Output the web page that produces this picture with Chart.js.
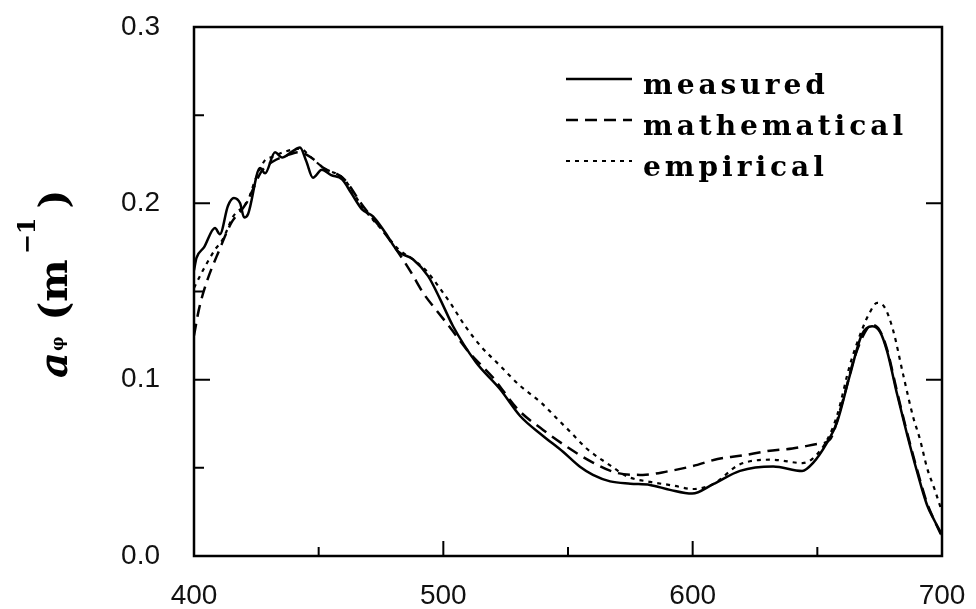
<!DOCTYPE html>
<html>
<head>
<meta charset="utf-8">
<script src="https://cdn.jsdelivr.net/npm/chart.js@4.4.0/dist/chart.umd.min.js"></script>
<style>
  html, body { margin: 0; padding: 0; background: #fff; }
  #grafico { display: block; }
</style>
</head>
<body>
<canvas id="grafico" width="976" height="609"></canvas>
<script>
// Absorção do fitoplâncton: medida x modelos
const measuredWl = [400, 401, 404, 408.4, 410.4, 413.6, 416, 418.5, 420.1, 421.7, 426.5, 428.5, 432.5, 435.3, 439, 442.5, 445, 447.7, 451.3, 455, 459.4, 463, 467.4, 471.8, 476.6, 481.8, 487.8, 493.9, 498.7, 503.9, 513, 522.7, 530.8, 540, 548, 554.8, 560, 566.9, 575, 582.9, 590.9, 599.8, 608.2, 619, 632.3, 643.9, 648.3, 653.9, 657.9, 663.1, 667.9, 672, 675.2, 678, 682, 686, 690, 694, 697, 700];
const measuredVal = [0.162, 0.169, 0.175, 0.186, 0.1825, 0.1985, 0.203, 0.200, 0.192, 0.194, 0.220, 0.217, 0.229, 0.226, 0.229, 0.2316, 0.224, 0.2145, 0.219, 0.216, 0.2136, 0.206, 0.1966, 0.1926, 0.1836, 0.1728, 0.1683, 0.1587, 0.1457, 0.1303, 0.110, 0.0947, 0.0794, 0.0681, 0.0591, 0.0506, 0.046, 0.0423, 0.041, 0.0403, 0.0375, 0.0354, 0.0407, 0.0483, 0.0508, 0.0482, 0.0528, 0.0643, 0.0758, 0.1028, 0.1257, 0.1303, 0.127, 0.116, 0.0917, 0.0689, 0.0478, 0.0289, 0.020, 0.012];

const mathWl = [400, 402, 405, 410, 415, 420, 423, 427, 432, 437, 442, 447, 452, 460, 468, 476, 482, 487, 492, 498, 503, 510, 520, 530, 540, 550, 560, 570, 580, 590, 600, 610, 620, 630, 640, 650, 655, 660, 665, 670, 672, 675, 678, 682, 686, 690, 694, 697, 700];
const mathVal = [0.125, 0.140, 0.155, 0.173, 0.189, 0.198, 0.206, 0.218, 0.224, 0.227, 0.229, 0.226, 0.220, 0.214, 0.198, 0.184, 0.172, 0.161, 0.149, 0.138, 0.129, 0.116, 0.101, 0.083, 0.0715, 0.0615, 0.053, 0.047, 0.046, 0.048, 0.051, 0.055, 0.057, 0.0595, 0.061, 0.0635, 0.066, 0.087, 0.113, 0.129, 0.131, 0.128, 0.117, 0.093, 0.070, 0.049, 0.030, 0.020, 0.011];

const empWl = [400, 403.6, 408.4, 411.6, 415.6, 421.7, 424.5, 428.5, 431.3, 436.5, 442.5, 447, 452, 460, 468, 476, 482, 488, 493, 498, 503, 508.7, 515, 522.7, 530.8, 538.8, 546.8, 551, 557.6, 566.9, 573.7, 583, 592, 600, 608, 619, 632, 644, 648, 654, 658, 663, 668.4, 671, 674, 677, 680.4, 684.4, 688.4, 691.2, 694, 697, 700];
const empVal = [0.152, 0.162, 0.1737, 0.1797, 0.1923, 0.2017, 0.2131, 0.2245, 0.2263, 0.2293, 0.231, 0.226, 0.220, 0.214, 0.197, 0.184, 0.174, 0.168, 0.162, 0.153, 0.143, 0.1305, 0.119, 0.108, 0.0965, 0.0875, 0.0762, 0.0703, 0.0608, 0.0514, 0.0451, 0.042, 0.040, 0.038, 0.0406, 0.052, 0.0546, 0.0527, 0.0551, 0.066, 0.080, 0.108, 0.130, 0.138, 0.1436, 0.141, 0.128, 0.103, 0.079, 0.066, 0.050, 0.038, 0.025];

const xTicks = [400, 500, 600, 700];
const xMinor = [450, 550, 650];
const yTicks = [0.0, 0.1, 0.2, 0.3];
const yMinor = [0.05, 0.15, 0.25];
const seriesNames = ['measured', 'mathematical', 'empirical'];

function pares(wl, val) {
    return wl.map((w, i) => ({ x: w, y: val[i] }));
}

// Moldura com marcas internas (eixos do gráfico)
const moldura = {
    id: 'moldura',
    afterDatasetsDraw(chart) {
        const { ctx, chartArea: a, scales: { x, y } } = chart;
        ctx.save();
        ctx.strokeStyle = '#000';
        ctx.lineWidth = 2.5;
        ctx.strokeRect(a.left, a.top, a.right - a.left, a.bottom - a.top);
        ctx.lineWidth = 2;
        ctx.beginPath();
        xTicks.forEach(v => {
            const px = x.getPixelForValue(v);
            ctx.moveTo(px, a.bottom); ctx.lineTo(px, a.bottom - 15);
        });
        xMinor.forEach(v => {
            const px = x.getPixelForValue(v);
            ctx.moveTo(px, a.bottom); ctx.lineTo(px, a.bottom - 9);
        });
        yTicks.forEach(v => {
            const py = y.getPixelForValue(v);
            ctx.moveTo(a.left, py); ctx.lineTo(a.left + 16, py);
            ctx.moveTo(a.right, py); ctx.lineTo(a.right - 16, py);
        });
        yMinor.forEach(v => {
            const py = y.getPixelForValue(v);
            ctx.moveTo(a.left, py); ctx.lineTo(a.left + 10, py);
        });
        ctx.stroke();
        ctx.restore();
    }
};

// Legenda dentro da área do gráfico
const legendaInterna = {
    id: 'legendaInterna',
    afterDraw(chart) {
        const { ctx, chartArea: a } = chart;
        ctx.save();
        ctx.font = 'bold 28px "DejaVu Serif"';
        ctx.letterSpacing = '4px';
        ctx.fillStyle = '#000';
        ctx.textBaseline = 'alphabetic';
        chart.data.datasets.forEach((ds, i) => {
            const yl = a.top + 52 + i * 41;
            ctx.strokeStyle = '#000';
            ctx.lineWidth = ds.borderWidth;
            ctx.setLineDash(ds.borderDash || []);
            ctx.beginPath();
            ctx.moveTo(a.left + 372, yl);
            ctx.lineTo(a.left + 438, yl);
            ctx.stroke();
            ctx.fillText(ds.label, a.left + 449, yl + 15);
        });
        ctx.restore();
    }
};

// Título do eixo y: a_φ (m^-1), girado
const tituloY = {
    id: 'tituloY',
    afterDraw(chart) {
        const { ctx } = chart;
        ctx.save();
        ctx.translate(67, 378);
        ctx.rotate(-Math.PI / 2);
        ctx.fillStyle = '#000';
        ctx.textBaseline = 'alphabetic';
        let cx = 0;
        ctx.font = 'italic bold 40px "DejaVu Serif"';
        ctx.fillText('a', cx, 0);
        cx += ctx.measureText('a').width + 1;
        ctx.font = 'bold 16px "DejaVu Serif"';
        ctx.fillText('φ', cx, -4);
        cx += ctx.measureText('φ').width + 16;
        ctx.font = 'bold 40px "DejaVu Serif"';
        ctx.fillText('(m', cx, 0);
        cx += ctx.measureText('(m').width + 5;
        ctx.font = 'bold 24px "DejaVu Serif"';
        ctx.fillText('−1', cx, -32);
        cx += ctx.measureText('−1').width + 9;
        ctx.font = 'bold 40px "DejaVu Serif"';
        ctx.fillText(')', cx, 0);
        ctx.restore();
    }
};

const ctx = document.getElementById('grafico').getContext('2d');
new Chart(ctx, {
    type: 'line',
    data: {
        datasets: [
            {
                label: seriesNames[0],
                data: pares(measuredWl, measuredVal),
                borderColor: '#000',
                borderWidth: 2.5,
                borderDash: []
            },
            {
                label: seriesNames[1],
                data: pares(mathWl, mathVal),
                borderColor: '#000',
                borderWidth: 2.5,
                borderDash: [12, 7]
            },
            {
                label: seriesNames[2],
                data: pares(empWl, empVal),
                borderColor: '#000',
                borderWidth: 2.2,
                borderDash: [4, 5]
            }
        ]
    },
    options: {
        responsive: false,
        animation: false,
        devicePixelRatio: 1,
        layout: { padding: { top: 27, right: 34, left: 0, bottom: 0 } },
        elements: {
            point: { radius: 0 },
            line: { cubicInterpolationMode: 'monotone', fill: false }
        },
        plugins: {
            legend: { display: false },
            tooltip: { enabled: false }
        },
        scales: {
            x: {
                type: 'linear',
                min: 400,
                max: 700,
                afterBuildTicks: s => { s.ticks = xTicks.map(v => ({ value: v })); },
                afterFit: s => { s.height = 53; s.paddingLeft = 0; s.paddingRight = 0; },
                grid: { display: false },
                border: { display: false },
                ticks: {
                    padding: 15,
                    color: '#111',
                    font: { family: '"Liberation Sans"', size: 28 },
                    maxRotation: 0,
                    callback: v => String(v)
                }
            },
            y: {
                min: 0,
                max: 0.3,
                afterBuildTicks: s => { s.ticks = yTicks.map(v => ({ value: v })); },
                afterFit: s => { s.width = 194; s.paddingTop = 0; s.paddingBottom = 0; },
                grid: { display: false },
                border: { display: false },
                ticks: {
                    padding: 26,
                    color: '#111',
                    font: { family: '"Liberation Sans"', size: 28 },
                    callback: v => Number(v).toFixed(1)
                }
            }
        }
    },
    plugins: [moldura, legendaInterna, tituloY]
});
</script>
</body>
</html>
